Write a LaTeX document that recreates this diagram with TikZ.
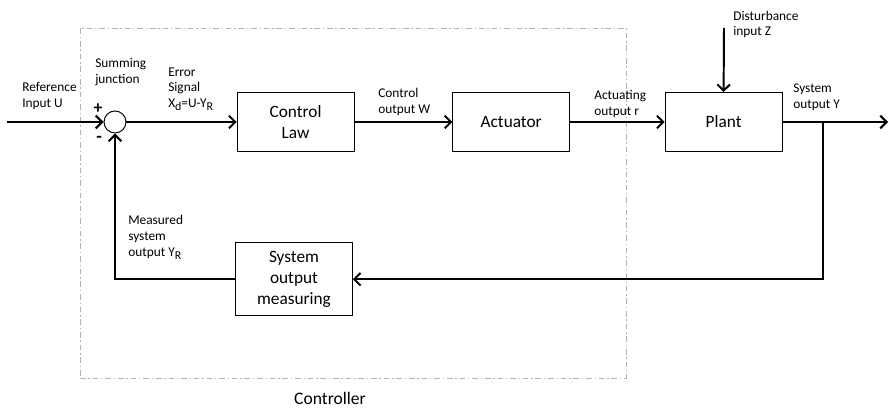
\documentclass[tikz,border=0pt]{standalone}
\usepackage{fontspec}
\setmainfont{Carlito}
\usetikzlibrary{positioning,arrows.meta}

% lowered, nearly full-size index as in the signal names
\newcommand{\lowidx}[1]{\raisebox{-0.45ex}{\fontsize{8.5}{10}\selectfont #1}}

\tikzset{
  block/.style={draw, line width=0.7pt, minimum width=2.92cm, minimum height=1.47cm,
    align=center, font=\fontsize{12.3}{15}\selectfont},
  sumjunc/.style={draw, circle, line width=0.7pt, minimum size=0.55cm, inner sep=0pt},
  sig/.style={line width=1.4pt, -{Straight Barb[length=4.5pt,width=9pt,line width=1.4pt]}},
  lbl/.style={align=left, inner sep=0pt, anchor=west, font=\fontsize{9.5}{11.3}\selectfont},
  ctrlbox/.style={draw=gray!60, line width=0.6pt, dash pattern=on 4pt off 2pt on 1pt off 2pt}
}

\begin{document}
\begin{tikzpicture}
  \useasboundingbox (0,0) rectangle (22.225,10.2);

  % controller frame
  \node [ctrlbox, minimum width=13.65cm, minimum height=8.75cm] (controller) at (8.825,5.125) {};
  \node [font=\fontsize{12.5}{15}\selectfont] (ctrlname) at (8.25,0.25) {Controller};

  % forward path
  \node [sumjunc] (sum) at (2.875,7.15) {};
  \node [block] (law) at (7.39,7.15) {Control\\Law};
  \node [block] (act) at (12.78,7.15) {Actuator};
  \node [block] (plant) at (18.09,7.15) {Plant};

  % feedback path
  \node [block, minimum height=1.82cm] (meas) at (7.35,3.22) {System\\output\\measuring};

  \coordinate (in) at (0.175,7.15);
  \coordinate (out) at (22.2,7.15);
  \coordinate (tap) at (20.575,7.15);
  \coordinate (dist) at (18.1,9.5);

  \draw [sig] (in) -- (sum.west);
  \draw [sig] (sum.east) -- (law.west);
  \draw [sig] (law.east) -- (act.west);
  \draw [sig] (act.east) -- (plant.west);
  \draw [sig] (plant.east) -- (out);
  \draw [sig] (dist) -- (plant.north);
  \draw [sig] (tap) |- (meas.east);
  \draw [sig] (meas.west) -| (sum.south);

  % signal labels
  \node [lbl] (refin) at (0.55,7.8) {Reference\\Input U};
  \node [lbl] (sumname) at (2.375,8.4) {Summing\\junction};
  \node [font=\fontsize{12.5}{14}\selectfont\bfseries, inner sep=0pt] (plus) at (2.45,7.48) {+};
  \node [font=\fontsize{13}{14}\selectfont\bfseries, inner sep=0pt] (minus) at (2.48,6.72) {-};
  \node [lbl] (err) at (4.2,7.97) {Error\\Signal\\X\lowidx{d}=U-Y\lowidx{R}};
  \node [lbl] (ctrlout) at (9.45,7.66) {Control\\output W};
  \node [lbl] (actout) at (14.85,7.61) {Actuating\\output r};
  \node [lbl] (sysout) at (19.825,7.77) {System\\output Y};
  \node [lbl] (distin) at (18.325,9.59) {Disturbance\\input Z};
  \node [lbl] (measout) at (3.2,4.26) {Measured\\system\\output Y\lowidx{R}};
\end{tikzpicture}
\end{document}
